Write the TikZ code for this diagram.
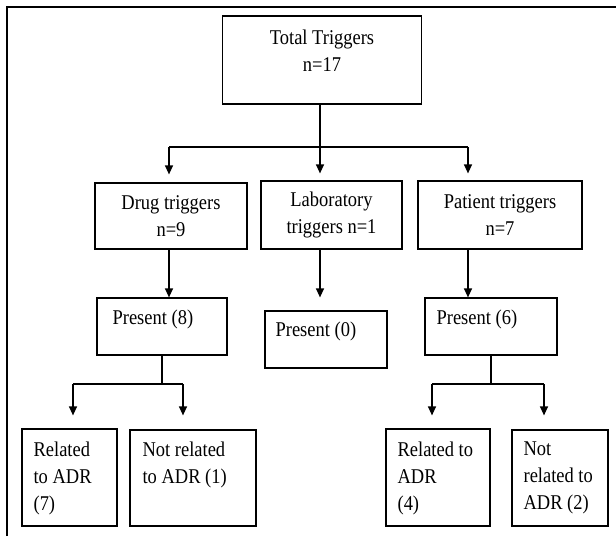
\documentclass[tikz,border=0pt]{standalone}
\usepackage{fontspec}
\setmainfont{Liberation Serif}[FakeStretch=0.88]
\usetikzlibrary{arrows.meta}
\tikzset{>={Triangle[width=8pt,length=9pt]}}

\begin{document}
\begin{tikzpicture}[x=1pt,y=-1pt,font=\fontsize{21}{27}\selectfont,line width=1.2pt]
\tikzstyle{b}=[draw,rectangle,inner sep=0,align=center]
\tikzstyle{t}=[inner sep=0,align=center]
\tikzstyle{tl}=[inner sep=0,align=left,anchor=north west]

    \useasboundingbox (0,0) rectangle (616,536);
    \draw[line width=2pt] (7,536) -- (7,7) -- (616,7);

    % first level
    \node[b, minimum width=199, minimum height=88] (tot) at (322,60){};
    \node[t] (tottxt) at (322,51){Total Triggers\\n=17};

    \node[b, minimum width=152, minimum height=66] (drug) at (171,216){Drug triggers\\n=9};
    \node[b, minimum width=141, minimum height=68] (lab) at (331.5,215){Laboratory\\triggers n=1};
    \node[b, minimum width=164, minimum height=68] (pat) at (500,215){Patient triggers\\n=7};

    % present
    \node[b, minimum width=130, minimum height=57] (p8) at (162,326.5){};
    \node[b, minimum width=122, minimum height=57] (p0) at (326,339.5){};
    \node[b, minimum width=132, minimum height=57] (p6) at (491,326.5){};
    \node[t, anchor=west] (p8txt) at (112,319){Present (8)};
    \node[t, anchor=west] (p0txt) at (275,331){Present (0)};
    \node[t, anchor=west] (p6txt) at (436,319){Present (6)};

    % ADR
    \node[b, minimum width=95, minimum height=97] (r7) at (69.5,477.5){};
    \node[b, minimum width=126, minimum height=96] (n1) at (193,478){};
    \node[b, minimum width=104, minimum height=97] (r4) at (438,477.5){};
    \node[b, minimum width=96, minimum height=96] (n2) at (560,478){};
    \node[tl] (r7txt) at (33,441){Related\\to ADR\\(7)};
    \node[tl] (n1txt) at (142,441){Not related\\to ADR (1)};
    \node[tl] (r4txt) at (397,441){Related to\\ADR\\(4)};
    \node[tl] (n2txt) at (523,441){Not\\related to\\ADR (2)};

    \coordinate (j0) at (320,147);
    \coordinate (jd) at (169,147);
    \coordinate (jp) at (468,147);
    \coordinate (k8l) at (73,384);
    \coordinate (k8r) at (183,384);
    \coordinate (k6l) at (432,384);
    \coordinate (k6r) at (544,384);

    \draw (j0 |- tot.south) -- (j0);
    \draw (jd) -- (jp);
    \draw[->, shorten >=8pt] (jd) -- (jd |- drug.north);
    \draw[->, shorten >=7pt] (j0) -- (j0 |- lab.north);
    \draw[->, shorten >=7pt] (jp) -- (jp |- pat.north);

    \draw[->] (jd |- drug.south) -- (jd |- p8.north);
    \draw[->, shorten >=13pt] (j0 |- lab.south) -- (j0 |- p0.north);
    \draw[->] (jp |- pat.south) -- (jp |- p6.north);

    \draw (p8.south) -- (p8.south |- k8l);
    \draw (k8l) -- (k8r);
    \draw[->, shorten >=13pt] (k8l) -- (k8l |- r7.north);
    \draw[->, shorten >=14pt] (k8r) -- (k8r |- n1.north);

    \draw (p6.south) -- (p6.south |- k6l);
    \draw (k6l) -- (k6r);
    \draw[->, shorten >=13pt] (k6l) -- (k6l |- r4.north);
    \draw[->, shorten >=14pt] (k6r) -- (k6r |- n2.north);

\end{tikzpicture}
\end{document}
